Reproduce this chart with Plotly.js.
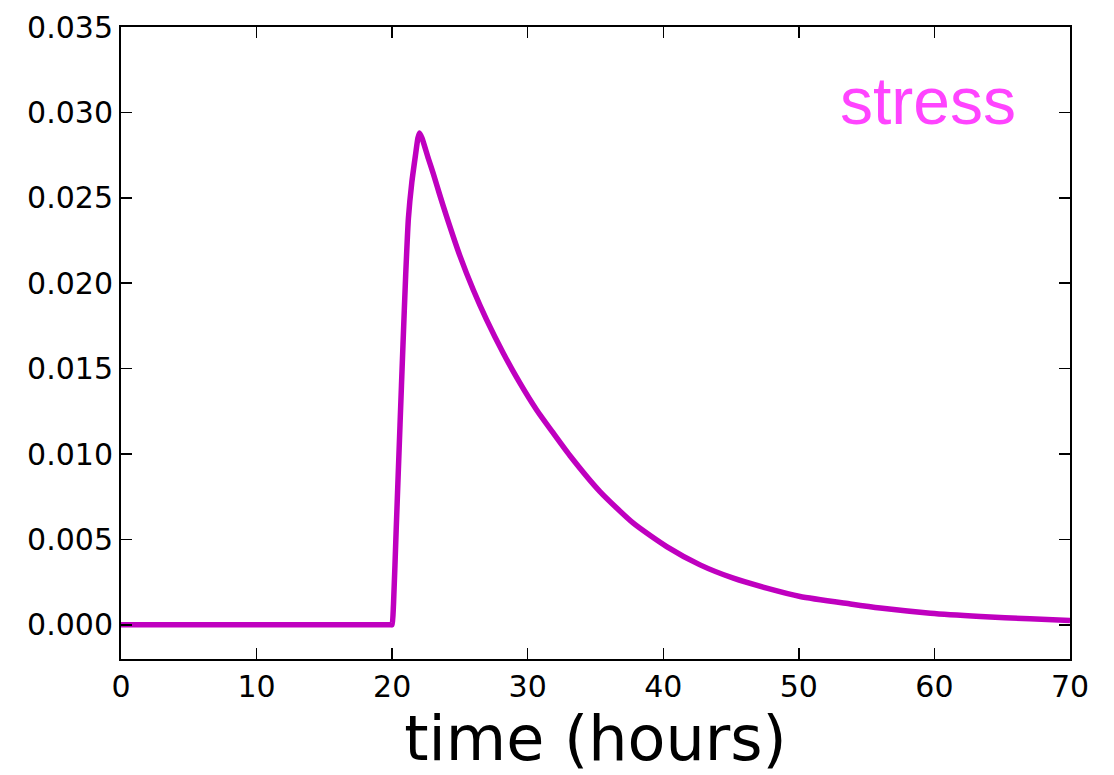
<!DOCTYPE html>
<html>
<head>
<meta charset="utf-8">
<script src="https://cdn.plot.ly/plotly-3.0.1.min.js"></script>
<style>
  html, body { margin: 0; padding: 0; background: #ffffff; }
  #chart { width: 1114px; height: 775px; }
</style>
</head>
<body>
<div id="chart"></div>
<script>
// Stress response over time (hours)
const timeHours = [
  0, 5, 10, 15, 19.95, 20.0,
  20.1, 20.3, 20.58, 20.8, 21.0, 21.2, 21.45, 21.74, 21.9, 22.02,
  22.2, 22.67, 23.04, 23.5, 24.02, 25.0, 25.99, 26.97, 28.2, 29.43,
  30.66, 31.89, 33.12, 35.33, 37.79, 40.25, 42.71, 45.17, 47.63,
  50.09, 53.8, 56.0, 59.7, 63.4, 67.05, 70
];
const stress = [
  0, 0, 0, 0, 0, 0,
  0.0012, 0.0056, 0.0117, 0.0164, 0.0205, 0.0238, 0.0259, 0.0276, 0.0285, 0.0288,
  0.0285, 0.0273, 0.0264, 0.0252, 0.0239, 0.0216, 0.0196, 0.01785, 0.0159, 0.01415,
  0.01258, 0.01122, 0.0099, 0.0078, 0.00595, 0.00458, 0.00351, 0.00273, 0.00215,
  0.00166, 0.00122, 0.00098, 0.00068, 0.00049, 0.00035, 0.00025
];
const yTicks = [0, 0.005, 0.01, 0.015, 0.02, 0.025, 0.03, 0.035];
const xTicks = [0, 10, 20, 30, 40, 50, 60, 70];

const tickFont = { family: 'DejaVu Sans', size: 30, color: '#000000' };

const trace = {
  x: timeHours,
  y: stress,
  type: 'scatter',
  mode: 'lines',
  line: { color: '#bf00bf', width: 5.5, shape: 'spline', smoothing: 0.6 },
  hoverinfo: 'skip'
};

const layout = {
  width: 1114,
  height: 775,
  margin: { l: 121, r: 44, t: 27, b: 116 },
  paper_bgcolor: '#ffffff',
  plot_bgcolor: '#ffffff',
  showlegend: false,
  xaxis: {
    range: [0, 70],
    tickvals: xTicks,
    ticktext: xTicks.map(String),
    ticks: 'inside',
    ticklen: 11,
    tickwidth: 1.5,
    tickcolor: '#000000',
    showline: true,
    linecolor: '#000000',
    linewidth: 2,
    mirror: 'ticks',
    showgrid: false,
    zeroline: false,
    tickfont: tickFont,
    title: { text: 'time (hours)', font: { family: 'DejaVu Sans', size: 62, color: '#000000' }, standoff: 6 }
  },
  yaxis: {
    range: [-0.002, 0.035],
    tickvals: yTicks,
    ticktext: yTicks.map(v => v.toFixed(3)),
    ticks: 'inside',
    ticklen: 11,
    tickwidth: 1.5,
    tickcolor: '#000000',
    showline: true,
    linecolor: '#000000',
    linewidth: 2,
    mirror: 'ticks',
    showgrid: false,
    zeroline: false,
    tickfont: tickFont
  },
  annotations: [{
    text: 'stress',
    xref: 'paper', yref: 'paper',
    x: 0.850, y: 0.883,
    xanchor: 'center', yanchor: 'middle',
    showarrow: false,
    font: { family: 'Liberation Sans', size: 66, color: '#ff44ff' }
  }]
};

Plotly.newPlot('chart', [trace], layout, { staticPlot: true, displayModeBar: false });
</script>
</body>
</html>
